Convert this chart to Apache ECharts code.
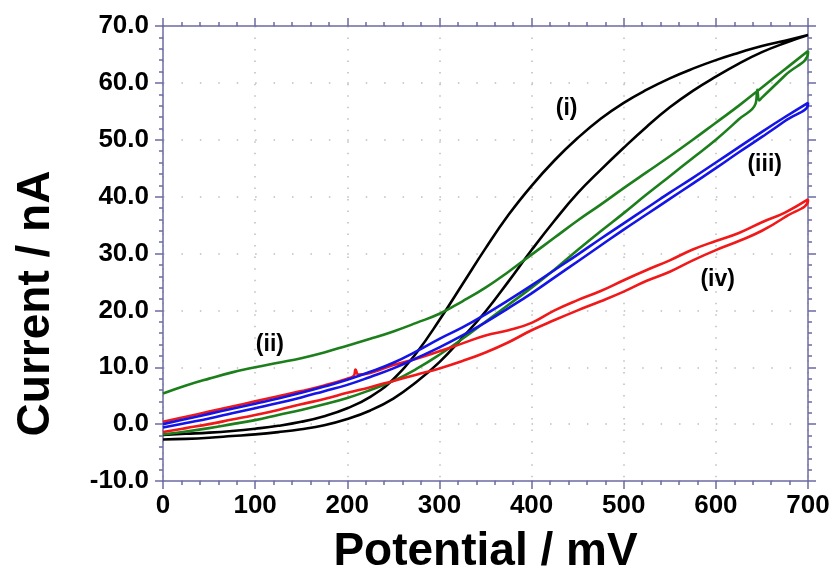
<!DOCTYPE html>
<html>
<head>
<meta charset="utf-8">
<script src="https://cdn.jsdelivr.net/npm/echarts@6/dist/echarts.min.js"></script>
<style>
  html, body { margin: 0; padding: 0; background: #fff; }
  #main { width: 834px; height: 580px; }
</style>
</head>
<body>
<div id="main"></div>
<script>
// potential grid (mV), shared by every branch
const potential = [0, 25, 50, 75, 100, 125, 150, 175, 200, 225, 250, 275, 300, 325, 350,
  375, 400, 425, 450, 475, 500, 525, 550, 575, 600, 625, 650, 675, 700];

// (i) black
const i_low = [-2.7, -2.6, -2.4, -2.1, -1.8, -1.4, -0.9, -0.2, 0.9, 2.4, 4.5, 7.4, 10.9, 15.2, 19.8,
  25.1, 30.6, 35.8, 40.6, 44.7, 48.6, 52.3, 55.7, 58.6, 61.1, 63.4, 65.4, 67.0, 68.4];
const i_high = [-1.9, -1.7, -1.5, -1.2, -0.8, -0.3, 0.4, 1.4, 2.8, 4.8, 7.9, 12.5, 18.3, 24.6, 30.9,
  36.8, 41.9, 46.4, 50.3, 53.7, 56.5, 58.8, 60.8, 62.5, 64.0, 65.3, 66.5, 67.4, 68.4];

// (ii) green
const ii_low = [-1.8, -1.3, -0.7, 0.0, 0.7, 1.6, 2.5, 3.5, 4.6, 6.0, 7.6, 9.7, 12.2, 15.0, 18.0,
  21.0, 24.0, 27.2, 30.6, 33.9, 37.1, 40.4, 43.6, 46.8, 50.0, 53.6, 57.4, 61.3, 65.3];
const ii_high = [5.4, 6.8, 8.0, 9.1, 10.0, 10.8, 11.6, 12.6, 13.8, 15.0, 16.3, 17.8, 19.4, 21.6, 24.0,
  26.8, 29.8, 32.8, 35.8, 38.6, 41.5, 44.3, 47.1, 50.0, 53.0, 56.0, 59.2, 62.4, 65.6];
const ii_glitchX = [643, 645, 647];
const ii_glitchY = [56.3, 58.8, 56.9];

// (iii) blue
const iii_low = [-0.6, 0.2, 1.0, 1.9, 2.8, 3.7, 4.7, 5.8, 6.9, 8.3, 9.8, 11.6, 13.5, 15.6, 17.9,
  20.4, 23.0, 25.8, 28.6, 31.4, 34.2, 36.9, 39.6, 42.3, 45.0, 47.8, 50.5, 53.3, 56.3];
const iii_high = [0.0, 0.9, 1.8, 2.7, 3.6, 4.5, 5.5, 6.6, 7.8, 9.2, 10.8, 12.8, 15.0, 17.0, 19.3,
  21.8, 24.4, 27.1, 29.8, 32.6, 35.3, 38.0, 40.7, 43.3, 46.0, 48.7, 51.4, 54.0, 56.5];

// (iv) red
const iv_low = [-1.4, -0.7, 0.0, 0.8, 1.6, 2.5, 3.5, 4.4, 5.5, 6.5, 7.6, 8.7, 9.8, 11.1, 12.6,
  14.4, 16.5, 18.3, 20.0, 21.6, 23.3, 25.2, 26.8, 28.8, 30.6, 32.2, 34.0, 36.4, 39.3];
const iv_high = [0.4, 1.3, 2.2, 3.1, 4.0, 4.9, 5.8, 6.8, 8.0, 9.0, 10.4, 11.5, 12.8, 14.2, 15.6,
  16.5, 17.8, 20.0, 21.8, 23.4, 25.3, 27.1, 28.8, 30.7, 32.2, 33.6, 35.5, 37.2, 39.5];
const iv_glitchX = [207, 209, 212];
const iv_glitchY = [8.5, 9.6, 8.7];

// curve labels (data coordinates)
const labelText = ['(i)', '(ii)', '(iii)', '(iv)'];
const labelPotential = [438, 116, 653, 602];
const labelCurrent = [55.4, 14.0, 45.7, 25.4];

const yTicks = [-10, 0, 10, 20, 30, 40, 50, 60, 70];

function branch(ys, gx, gy) {
  const pts = potential.map((x, i) => [x, ys[i]]);
  if (gx) gx.forEach((x, i) => pts.push([x, gy[i]]));
  return pts.sort((a, b) => a[0] - b[0]);
}

// sweep out along one branch and back along the other
function cycle(out, back) {
  return out.concat(back.slice().reverse());
}

const FONT = '"Liberation Sans", Arial, sans-serif';
const AXIS = '#6b6ba3';

const lineStyleAxis = { color: AXIS, width: 1.5 };

function xAx(pos, labels) {
  return {
    type: 'value', position: pos, min: 0, max: 700, interval: 100,
    axisLine: { show: true, onZero: false, lineStyle: lineStyleAxis },
    axisTick: { show: true, length: 8, lineStyle: lineStyleAxis },
    minorTick: { show: true, splitNumber: 5, length: 4, lineStyle: lineStyleAxis },
    axisLabel: { show: labels, color: '#000', fontSize: 26, fontWeight: 'bold', fontFamily: FONT, margin: 12 },
    splitLine: labels ? { show: true, lineStyle: { color: '#bdbdbd', width: 1.5, type: [1.5, 10.03] } } : { show: false },
    name: labels ? 'Potential / mV' : '',
    nameLocation: 'middle', nameGap: 48,
    nameTextStyle: { color: '#000', fontSize: 46, fontWeight: 'bold', fontFamily: FONT }
  };
}

function yAx(pos, labels) {
  return {
    type: 'value', position: pos, min: -10, max: 70, interval: 10,
    axisLine: { show: true, onZero: false, lineStyle: lineStyleAxis },
    axisTick: { show: true, length: 8, lineStyle: lineStyleAxis },
    minorTick: { show: true, splitNumber: 5, length: 4, lineStyle: lineStyleAxis },
    axisLabel: {
      show: labels, color: '#000', fontSize: 26, fontWeight: 'bold', fontFamily: FONT, margin: 14,
      formatter: v => yTicks.includes(v) ? v.toFixed(1) : ''
    },
    splitLine: labels ? { show: true, lineStyle: { color: '#bdbdbd', width: 1.5, type: [1.5, 16.93] } } : { show: false },
    name: labels ? 'Current / nA' : '',
    nameLocation: 'middle', nameGap: 104,
    nameTextStyle: { color: '#000', fontSize: 46, fontWeight: 'bold', fontFamily: FONT, padding: [0, 100, 0, 0] }
  };
}

function curve(data, color) {
  return {
    type: 'line', data: data, xAxisIndex: 0, yAxisIndex: 0,
    showSymbol: false, smooth: 0.45, animation: false,
    lineStyle: { color: color, width: 2.6 }
  };
}

const chart = echarts.init(document.getElementById('main'), null, { renderer: 'canvas' });

chart.setOption({
  animation: false,
  backgroundColor: '#fff',
  grid: { left: 163, right: 26, top: 26, bottom: 93 },
  xAxis: [xAx('bottom', true), xAx('top', false)],
  yAxis: [yAx('left', true), yAx('right', false)],
  series: [
    curve(cycle(branch(i_low), branch(i_high)), '#000000'),
    curve(cycle(branch(ii_low, ii_glitchX, ii_glitchY), branch(ii_high)), '#1c7f1c'),
    curve(cycle(branch(iv_low), branch(iv_high, iv_glitchX, iv_glitchY)), '#f01818'),
    curve(cycle(branch(iii_low), branch(iii_high)), '#1414e6')
  ]
});

chart.setOption({
  graphic: labelText.map((t, i) => {
    const p = chart.convertToPixel({ gridIndex: 0 }, [labelPotential[i], labelCurrent[i]]);
    return {
      type: 'text', x: p[0], y: p[1],
      style: { text: t, fill: '#000', font: 'bold 23px ' + FONT, textAlign: 'center', textVerticalAlign: 'middle' }
    };
  })
});
</script>
</body>
</html>
